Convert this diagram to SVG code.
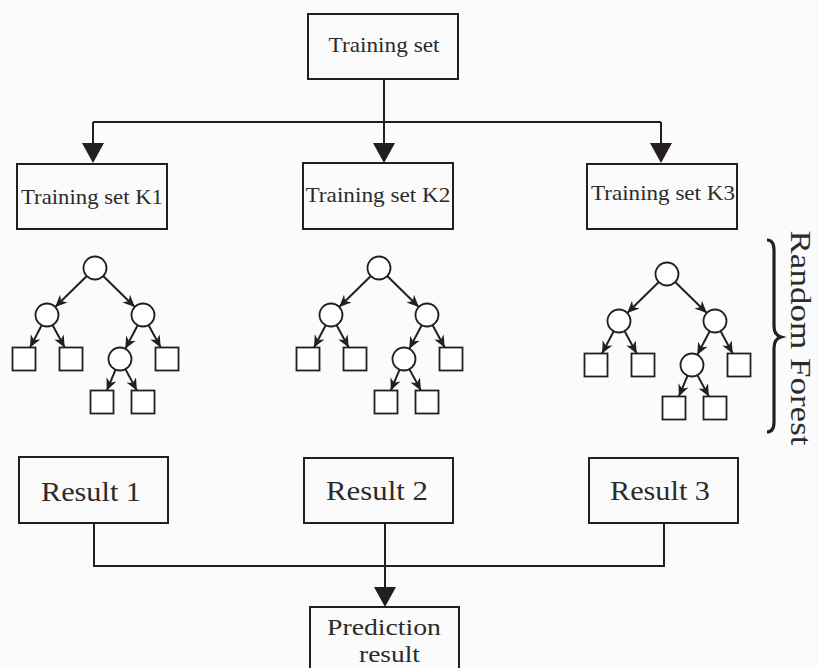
<svg xmlns="http://www.w3.org/2000/svg" width="818" height="668" viewBox="0 0 818 668">
<style>
.box{fill:#fbfbfb;stroke:#231f1f;stroke-width:2}
.ln{fill:none;stroke:#231f1f;stroke-width:2}
.ah{fill:#231f1f}
.t{font-family:"Liberation Serif","Times New Roman",serif;fill:#2b2b2b;text-anchor:middle}
.nd{fill:#fff;stroke:#231f1f;stroke-width:1.8}
.te{fill:none;stroke:#231f1f;stroke-width:2;marker-end:url(#ta)}
</style>
<defs>
<marker id="ta" markerUnits="userSpaceOnUse" viewBox="0 0 10 10" refX="10" refY="5" markerWidth="12" markerHeight="12" orient="auto">
<path d="M0,0.5 L10,5 L0,9.5 L3,5 z" fill="#231f1f"/>
</marker>
<g id="tree">
<path class="te" d="M-8.2,8 L-39.8,39"/>
<path class="te" d="M8.2,8 L39.8,39"/>
<path class="te" d="M-53.3,57.2 L-65,79.5"/>
<path class="te" d="M-42.5,57.1 L-30.3,79.5"/>
<path class="te" d="M42.7,57.2 L30.3,80.8"/>
<path class="te" d="M53.5,57.1 L65.7,79.5"/>
<path class="te" d="M20.6,101.6 L11.8,122.5"/>
<path class="te" d="M30.4,101.1 L41.9,122.5"/>
<circle class="nd" cx="0" cy="0" r="11.5"/>
<circle class="nd" cx="-48" cy="47" r="11.5"/>
<circle class="nd" cx="48" cy="47" r="11.5"/>
<circle class="nd" cx="25" cy="91" r="11.5"/>
<rect class="nd" x="-82.5" y="79.5" width="23" height="23"/>
<rect class="nd" x="-35.5" y="79.5" width="23" height="23"/>
<rect class="nd" x="60.5" y="79.5" width="23" height="23"/>
<rect class="nd" x="-4.5" y="122.5" width="23" height="23"/>
<rect class="nd" x="36.5" y="122.5" width="23" height="23"/>
</g>
</defs>
<rect x="0" y="0" width="818" height="668" fill="#fbfbfb"/>

<g id="connectors">
<path class="ln" d="M384,79 V143 M93,122 H661 M93,122 V143 M661,122 V143"/>
<polygon class="ah" points="82,143 104,143 93,163"/>
<polygon class="ah" points="373,143 395,143 384,163"/>
<polygon class="ah" points="650,143 672,143 661,163"/>
<path class="ln" d="M94,523 V566 H664 V523 M385,523 V587"/>
<polygon class="ah" points="374,587 396,587 385,607"/>
</g>

<g id="training-set">
<rect class="box" x="308" y="14" width="150" height="65"/>
<text class="t" x="384" y="52" font-size="22" textLength="111" lengthAdjust="spacingAndGlyphs">Training set</text>
</g>
<g id="k1">
<rect class="box" x="17" y="164" width="150" height="65"/>
<text class="t" x="92" y="204" font-size="21" textLength="142" lengthAdjust="spacingAndGlyphs">Training set K1</text>
</g>
<g id="k2">
<rect class="box" x="303" y="163" width="150" height="66"/>
<text class="t" x="378" y="202" font-size="21" textLength="145" lengthAdjust="spacingAndGlyphs">Training set K2</text>
</g>
<g id="k3">
<rect class="box" x="587" y="164" width="150" height="65"/>
<text class="t" x="663" y="200" font-size="21" textLength="144" lengthAdjust="spacingAndGlyphs">Training set K3</text>
</g>

<g id="tree1"><use href="#tree" transform="translate(95,268)"/></g>
<g id="tree2"><use href="#tree" transform="translate(379,268)"/></g>
<g id="tree3"><use href="#tree" transform="translate(667,274)"/></g>

<g id="random-forest">
<path d="M767,240 Q774,240 774,250 L774,326 Q774,335 781,337 Q774,339 774,348 L774,422 Q774,432 767,432" fill="none" stroke="#231f1f" stroke-width="3.2"/>
<text class="t" transform="translate(791,338) rotate(90)" x="0" y="0" font-size="29" textLength="215" lengthAdjust="spacingAndGlyphs">Random Forest</text>
</g>

<g id="result1">
<rect class="box" x="19" y="457" width="149" height="66"/>
<text class="t" x="91" y="501" font-size="27" textLength="100" lengthAdjust="spacingAndGlyphs">Result 1</text>
</g>
<g id="result2">
<rect class="box" x="304" y="458" width="149" height="65"/>
<text class="t" x="377" y="500" font-size="27" textLength="102" lengthAdjust="spacingAndGlyphs">Result 2</text>
</g>
<g id="result3">
<rect class="box" x="589" y="458" width="149" height="65"/>
<text class="t" x="660" y="500" font-size="27" textLength="100" lengthAdjust="spacingAndGlyphs">Result 3</text>
</g>

<g id="prediction">
<rect class="box" x="310" y="607" width="149" height="80"/>
<text class="t" x="384" y="635" font-size="23" textLength="114" lengthAdjust="spacingAndGlyphs">Prediction</text>
<text class="t" x="389.5" y="662" font-size="23" textLength="61" lengthAdjust="spacingAndGlyphs">result</text>
</g>
</svg>
